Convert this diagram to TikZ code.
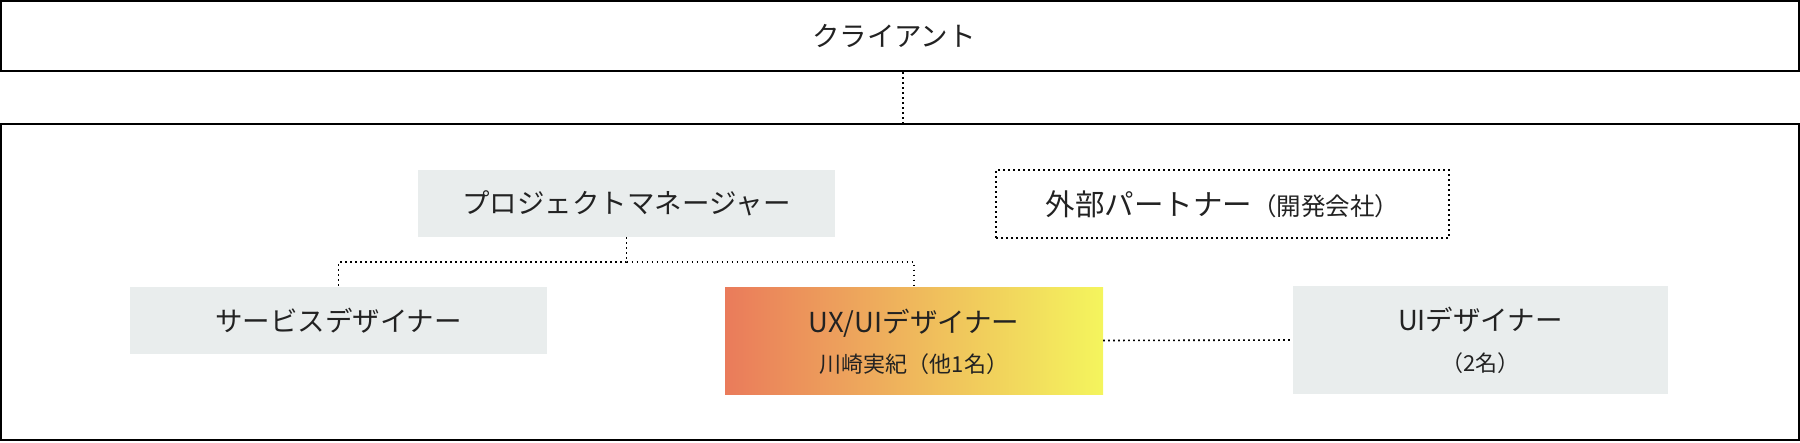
\documentclass[tikz,border=0pt]{standalone}
\usepackage{fontspec}
\setmainfont{Noto Sans CJK JP}
\usetikzlibrary{calc}
\definecolor{boxgray}{HTML}{E9EDED}
\definecolor{txt}{HTML}{222222}
\definecolor{gl}{HTML}{EA7B5B}
\definecolor{gm}{HTML}{EFBD5E}
\definecolor{gr}{HTML}{F4F55D}
\begin{document}
\begin{tikzpicture}[x=1pt,y=-1pt,
  frame/.style={draw=black, line width=2pt, inner sep=0pt},
  graybox/.style={fill=boxgray, inner sep=0pt, text=txt},
  dotline/.style={line width=1.6pt, dash pattern=on 1.6pt off 3.4pt},
  mainfont/.style={font=\fontsize{27.5}{32}\selectfont},
  subfont/.style={font=\fontsize{22}{26}\selectfont},
  lbl/.style={inner sep=0pt, anchor=base, text=txt}]
\useasboundingbox (0,0) rectangle (1800,442);
\node[frame, minimum width=1798pt, minimum height=70pt] (client) at (900,36) {};
\node[lbl, mainfont] (clientt) at (894,46.5) {クライアント};
\node[frame, minimum width=1798pt, minimum height=316pt] (org) at (900,282) {};
\node[graybox, minimum width=417pt, minimum height=67pt, mainfont] (pm) at (626.5,203.5) {プロジェクトマネージャー};
\node[draw=black, dotline, inner sep=0pt, minimum width=453pt, minimum height=68pt, text=txt] (ext) at (1222.5,204)
  {\fontsize{29.5}{32}\selectfont 外部パートナー{\fontsize{24.5}{26}\selectfont（開発会社）}};
\node[graybox, minimum width=417pt, minimum height=67pt, mainfont] (svc) at (338.5,320.5) {サービスデザイナー};
\node[inner sep=0pt, minimum width=378pt, minimum height=107pt, left color=gl, middle color=gm, right color=gr] (ux) at (914,340.5) {};
\node[lbl, mainfont] (uxt1) at (914,332.5) {UX/UIデザイナー};
\node[lbl, subfont] (uxt2) at (914,372.5) {川崎実紀（他1名）};
\node[graybox, minimum width=375pt, minimum height=108pt] (ui) at (1480.5,340) {};
\node[lbl, mainfont] (uit1) at (1480.5,330.5) {UIデザイナー};
\node[lbl, subfont] (uit2) at (1480.5,371.5) {（2名）};
\draw[dotline] ($(client.south)+(3,0)$) -- ($(org.north)+(3,0)$);
\draw[dotline] (pm.south) -- ($(pm.south)+(0,25)$) coordinate (split) -| (svc.north);
\draw[dotline] (split) -| (ux.north);
\draw[dotline] (ux.east) -- (ui.west);
\end{tikzpicture}
\end{document}
